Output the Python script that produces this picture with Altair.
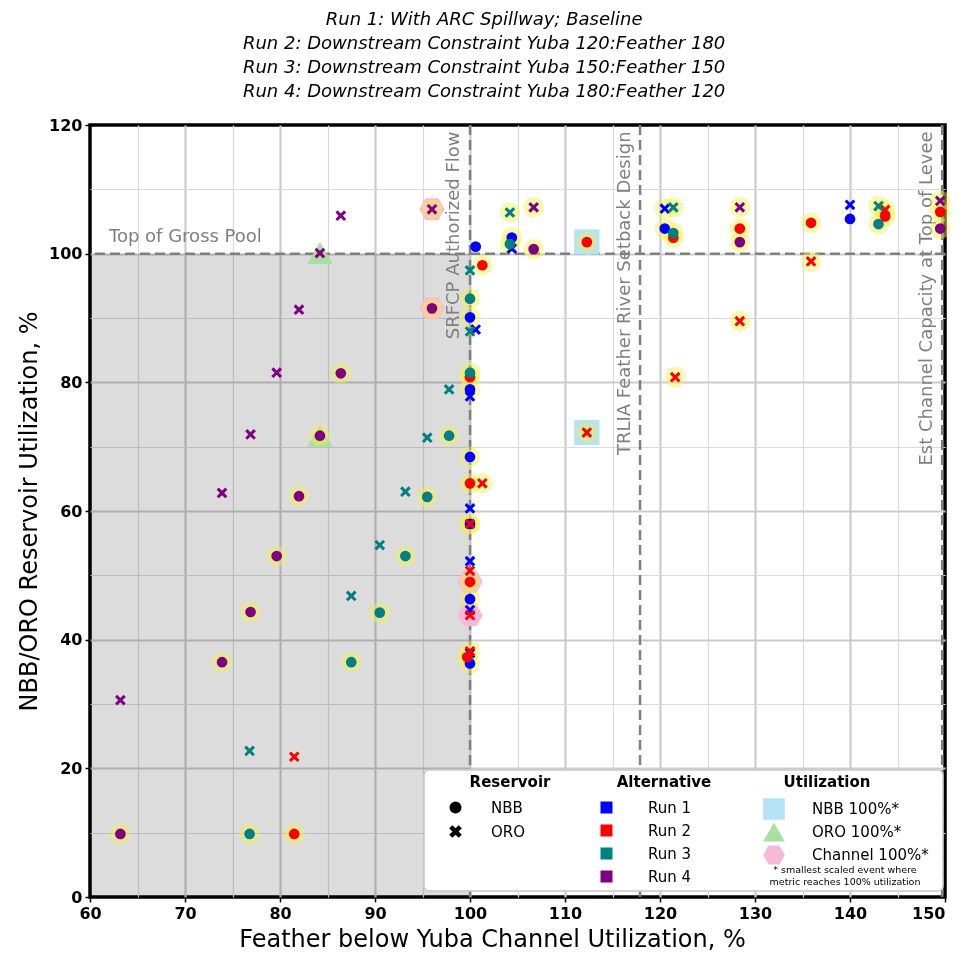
import altair as alt
import pandas as pd

FONT = "DejaVu Sans"
GREY_TXT = "#7f7f7f"

# ---------------- categories ----------------
runs = ["Run 1", "Run 2", "Run 3", "Run 4"]
run_colors = ["#0000ff", "#ff0000", "#008080", "#800080"]
reservoirs = ["NBB", "ORO"]
X_PATH = "M-1,-0.6L-0.6,-1L0,-0.4L0.6,-1L1,-0.6L0.4,0L1,0.6L0.6,1L0,0.4L-0.6,1L-1,0.6L-0.4,0Z"
HEX_PATH = "M-1,0L-0.5,-0.866L0.5,-0.866L1,0L0.5,0.866L-0.5,0.866Z"

# ---------------- Run 1 ----------------
r1_nbb_x = [100, 100, 100, 100, 100, 100, 100.6, 104.4, 120.5, 140.0]
r1_nbb_y = [36.3, 46.3, 58.0, 68.4, 78.9, 90.1, 101.1, 102.5, 103.9, 105.4]
r1_nbb_halo = [1, 1, 1, 1, 1, 1, 0, 1, 1, 0]
r1_oro_x = [100, 100, 100, 100, 100, 100.6, 104.4, 120.5, 140.0]
r1_oro_y = [37.9, 44.6, 52.2, 60.4, 77.8, 88.2, 100.8, 107.0, 107.6]
r1_oro_halo = [0, 0, 0, 0, 0, 0, 0, 1, 0]

# ---------------- Run 2 ----------------
r2_nbb_x = [81.5, 99.7, 100, 100, 100, 101.3, 112.3, 121.4, 128.4, 135.9, 143.7, 149.5]
r2_nbb_y = [9.8, 37.3, 49.0, 64.3, 80.8, 98.2, 101.8, 102.5, 103.9, 104.8, 105.8, 106.5]
r2_nbb_halo = [1, 1, 1, 1, 1, 1, 1, 1, 1, 1, 1, 1]
r2_oro_x = [81.5, 100, 100, 100, 100, 101.3, 112.3, 121.6, 128.4, 135.9, 143.7]
r2_oro_y = [21.8, 38.2, 43.8, 50.7, 58.0, 64.3, 72.2, 80.8, 89.5, 98.8, 106.8]
r2_oro_halo = [0, 1, 0, 0, 1, 1, 1, 1, 1, 1, 1]

# ---------------- Run 3 ----------------
r3_nbb_x = [76.8, 87.5, 90.5, 93.2, 95.5, 97.8, 100, 100, 104.2, 121.4, 143.0]
r3_nbb_y = [9.8, 36.5, 44.2, 53.0, 62.2, 71.7, 81.5, 93.0, 101.5, 103.2, 104.6]
r3_nbb_halo = [1, 1, 1, 1, 1, 1, 1, 1, 1, 1, 1]
r3_oro_x = [76.8, 87.5, 90.5, 93.2, 95.5, 97.8, 100, 100, 104.2, 121.4, 143.0]
r3_oro_y = [22.7, 46.8, 54.7, 63.0, 71.4, 78.9, 87.9, 97.4, 106.4, 107.2, 107.4]
r3_oro_halo = [0, 0, 0, 0, 0, 0, 0, 0, 1, 1, 1]

# ---------------- Run 4 ----------------
r4_nbb_x = [63.2, 73.9, 76.9, 79.65, 82.0, 84.2, 86.4, 96.0, 106.7, 128.4, 149.5]
r4_nbb_y = [9.8, 36.5, 44.3, 53.0, 62.3, 71.7, 81.4, 91.5, 100.7, 101.8, 103.9]
r4_nbb_halo = [1, 1, 1, 1, 1, 1, 1, 1, 1, 1, 1]
r4_oro_x = [63.2, 73.9, 76.9, 79.65, 82.0, 84.2, 86.4, 96.0, 106.7, 128.4, 149.5]
r4_oro_y = [30.6, 62.8, 71.9, 81.5, 91.3, 100.1, 105.9, 106.9, 107.2, 107.2, 108.2]
r4_oro_halo = [0, 0, 0, 0, 0, 0, 0, 1, 1, 1, 1]

# ---------------- 100% utilization markers ----------------
util_types = ["NBB 100%*", "ORO 100%*", "Channel 100%*"]
util_colors = ["#b5e2f7", "#a9dfa2", "#f8b8d8"]
util_shapes = ["square", "triangle-up", HEX_PATH]
ov_x = [112.3, 112.3, 84.2, 84.2, 96.0, 96.0, 100.0, 100.0]
ov_y = [101.8, 72.2, 100.1, 71.7, 106.9, 91.5, 49.0, 43.8]
ov_type = ["NBB 100%*", "NBB 100%*", "ORO 100%*", "ORO 100%*",
           "Channel 100%*", "Channel 100%*", "Channel 100%*", "Channel 100%*"]

# ---------------- reference lines ----------------
gross_pool = 100
vline_x = [100, 117.9, 149.7]
vline_text = ["SRFCP Authorized Flow", "TRLIA Feather River Setback Design",
              "Est Channel Capacity at Top of Levee"]
vline_text_x = [99.25, 117.3, 149.1]
shade_x = [60, 100]
shade_y = [0, 100]

title_lines = [
    "Run 1: With ARC Spillway; Baseline",
    "Run 2: Downstream Constraint Yuba 120:Feather 180",
    "Run 3: Downstream Constraint Yuba 150:Feather 150",
    "Run 4: Downstream Constraint Yuba 180:Feather 120",
]

# ---------------- build tables ----------------
rows = []
def add(run, res, xs, ys, halos):
    for xv, yv, h in zip(xs, ys, halos):
        rows.append({"chan": xv, "util": yv, "run": run, "res": res, "halo": h})

add("Run 1", "NBB", r1_nbb_x, r1_nbb_y, r1_nbb_halo)
add("Run 1", "ORO", r1_oro_x, r1_oro_y, r1_oro_halo)
add("Run 2", "NBB", r2_nbb_x, r2_nbb_y, r2_nbb_halo)
add("Run 2", "ORO", r2_oro_x, r2_oro_y, r2_oro_halo)
add("Run 3", "NBB", r3_nbb_x, r3_nbb_y, r3_nbb_halo)
add("Run 3", "ORO", r3_oro_x, r3_oro_y, r3_oro_halo)
add("Run 4", "NBB", r4_nbb_x, r4_nbb_y, r4_nbb_halo)
add("Run 4", "ORO", r4_oro_x, r4_oro_y, r4_oro_halo)
pts = pd.DataFrame(rows)
pts["order"] = range(len(pts))
halo_df = pts[pts["halo"] == 1]

ov_df = pd.DataFrame({"chan": ov_x, "util": ov_y, "utype": ov_type})
shade_df = pd.DataFrame({"x1": [shade_x[0]], "x2": [shade_x[1]], "y1": [shade_y[0]], "y2": [shade_y[1]]})
vline_df = pd.DataFrame({"chan": vline_x})
hline_df = pd.DataFrame({"util": [gross_pool]})
vtext_df = pd.DataFrame({"chan": vline_text_x, "util": [119.0] * 3, "label": vline_text})
htext_df = pd.DataFrame({"chan": [62.0], "util": [101.2], "label": ["Top of Gross Pool"]})
one = pd.DataFrame({"a": [0]})

# ---------------- scales / axes ----------------
xscale = alt.Scale(domain=[60, 150], nice=False, zero=False)
yscale = alt.Scale(domain=[0, 120], nice=False, zero=False)
xaxis = alt.Axis(
    values=list(range(60, 151, 5)),
    labelExpr="datum.value % 10 === 0 ? datum.label : ''",
    labelFlush=False,
    labelAlign={"condition": {"test": "datum.value === 150", "value": "right"}, "value": "center"},
    gridWidth={"condition": [
        {"test": "datum.value === 60 || datum.value === 150", "value": 0},
        {"test": "datum.value % 10 === 0", "value": 2.2}], "value": 1.2},
    gridColor={"condition": {"test": "datum.value % 10 === 0", "value": "#cbcbcb"}, "value": "#dadada"},
    tickSize={"condition": {"test": "datum.value % 10 === 0", "value": 5}, "value": 0},
    labelPadding=3, titlePadding=6, titleX=402,
    title="Feather below Yuba Channel Utilization, %",
)
yaxis = alt.Axis(
    values=list(range(0, 121, 10)),
    labelExpr="datum.value % 20 === 0 ? datum.label : ''",
    labelFlush=False,
    gridWidth={"condition": [
        {"test": "datum.value === 0 || datum.value === 120", "value": 0},
        {"test": "datum.value % 20 === 0", "value": 2.2}], "value": 1.2},
    gridColor={"condition": {"test": "datum.value % 20 === 0", "value": "#cbcbcb"}, "value": "#dadada"},
    tickSize={"condition": {"test": "datum.value % 20 === 0", "value": 5}, "value": 0},
    labelPadding=3, titlePadding=7,
    title="NBB/ORO Reservoir Utilization, %",
)

def X(f):
    return alt.X(f, type="quantitative", scale=xscale, axis=xaxis)

def Y(f):
    return alt.Y(f, type="quantitative", scale=yscale, axis=yaxis)

# ---------------- layers ----------------
shade = alt.Chart(shade_df).mark_rect(fill="#dcdcdc", blend="multiply").encode(
    x=X("x1"), x2="x2:Q", y=Y("y1"), y2="y2:Q")

vrules = alt.Chart(vline_df).mark_rule(color="#808080", strokeWidth=2.5, strokeDash=[10, 5]).encode(
    x=X("chan"))
hrule = alt.Chart(hline_df).mark_rule(color="#808080", strokeWidth=2.5, strokeDash=[10, 5]).encode(
    y=Y("util"))

vtext = alt.Chart(vtext_df).mark_text(
    angle=270, align="right", baseline="bottom", font=FONT, fontSize=18, color=GREY_TXT
).encode(x=X("chan"), y=Y("util"), text="label:N")
htext = alt.Chart(htext_df).mark_text(
    align="left", baseline="bottom", font=FONT, fontSize=18, color=GREY_TXT
).encode(x=X("chan"), y=Y("util"), text="label:N")

util_legend = alt.Legend(orient="none", legendX=672, legendY=673, symbolSize=470,
                         labelFontSize=15, labelOffset=26, rowPadding=1, clipHeight=22,
                         labelFont=FONT, symbolOpacity=1)
overlay = alt.Chart(ov_df).mark_point(filled=True, size=640, opacity=1).encode(
    x=X("chan"), y=Y("util"),
    color=alt.Color("utype:N", title=None, scale=alt.Scale(domain=util_types, range=util_colors),
                    legend=util_legend),
    shape=alt.Shape("utype:N", title=None, scale=alt.Scale(domain=util_types, range=util_shapes),
                    legend=util_legend),
)

halos = alt.Chart(halo_df).mark_circle(size=430, color="#f2f24a", opacity=0.45).encode(
    x=X("chan"), y=Y("util"))

points = alt.Chart(pts).mark_point(filled=True, size=115, opacity=1, color="black").encode(
    x=X("chan"), y=Y("util"),
    color=alt.Color("run:N", title=None, scale=alt.Scale(domain=runs, range=run_colors),
                    legend=alt.Legend(orient="none", legendX=509, legendY=675, symbolType="square",
                                      symbolSize=144, labelFontSize=15, labelOffset=34,
                                      rowPadding=7, labelFont=FONT)),
    shape=alt.Shape("res:N", title=None, scale=alt.Scale(domain=reservoirs, range=["circle", X_PATH]),
                    legend=alt.Legend(orient="none", legendX=358, legendY=675,
                                      symbolFillColor="black", symbolStrokeColor="black",
                                      symbolSize=110, labelFontSize=15, labelOffset=28,
                                      rowPadding=7, labelFont=FONT)),
    order="order:Q",
)

legend_box = alt.Chart(one).mark_rect(
    fill="white", stroke="#c8c8c8", strokeWidth=1.5, cornerRadius=5
).encode(x=alt.value(334), x2=alt.value(853), y=alt.value(645), y2=alt.value(766))

leg_titles = []
for tx, tt in [(420, "Reservoir"), (574, "Alternative"), (737, "Utilization")]:
    leg_titles.append(
        alt.Chart(one).mark_text(font=FONT, fontSize=15, fontWeight="bold", color="black",
                                 align="center", baseline="middle")
        .encode(x=alt.value(tx), y=alt.value(657), text=alt.value(tt))
    )
foot1 = alt.Chart(one).mark_text(font=FONT, fontSize=9.5, color="black", align="center", baseline="middle").encode(
    x=alt.value(755), y=alt.value(745), text=alt.value("* smallest scaled event where"))
foot2 = alt.Chart(one).mark_text(font=FONT, fontSize=9.5, color="black", align="center", baseline="middle").encode(
    x=alt.value(755), y=alt.value(757), text=alt.value("metric reaches 100% utilization"))

chart = alt.layer(
    shade, vrules, hrule, vtext, htext, overlay, halos, points,
    legend_box, *leg_titles, foot1, foot2
).resolve_scale(
    color="independent", shape="independent"
).properties(
    width=855, height=772,
    padding={"left": 82, "top": 117, "right": 14, "bottom": 60},
    autosize=alt.AutoSizeParams(type="none"),
    title=alt.TitleParams(
        text=title_lines, font=FONT, fontSize=18, fontStyle="italic", fontWeight="normal",
        color="black", anchor="middle", frame="bounds", lineHeight=24, offset=16,
    ),
).configure_view(
    stroke="black", strokeWidth=3.5
).configure_axis(
    domain=False, labelFont=FONT, titleFont=FONT, labelFontSize=16, titleFontSize=24,
    labelColor="black", titleColor="black", titleFontWeight="normal", tickColor="black",
    tickWidth=1.5, labelFontWeight="bold",
).configure_legend(
    labelFont=FONT, padding=0, labelColor="black"
)

chart.save("out.html", embed_options={"renderer": "svg", "actions": False})
